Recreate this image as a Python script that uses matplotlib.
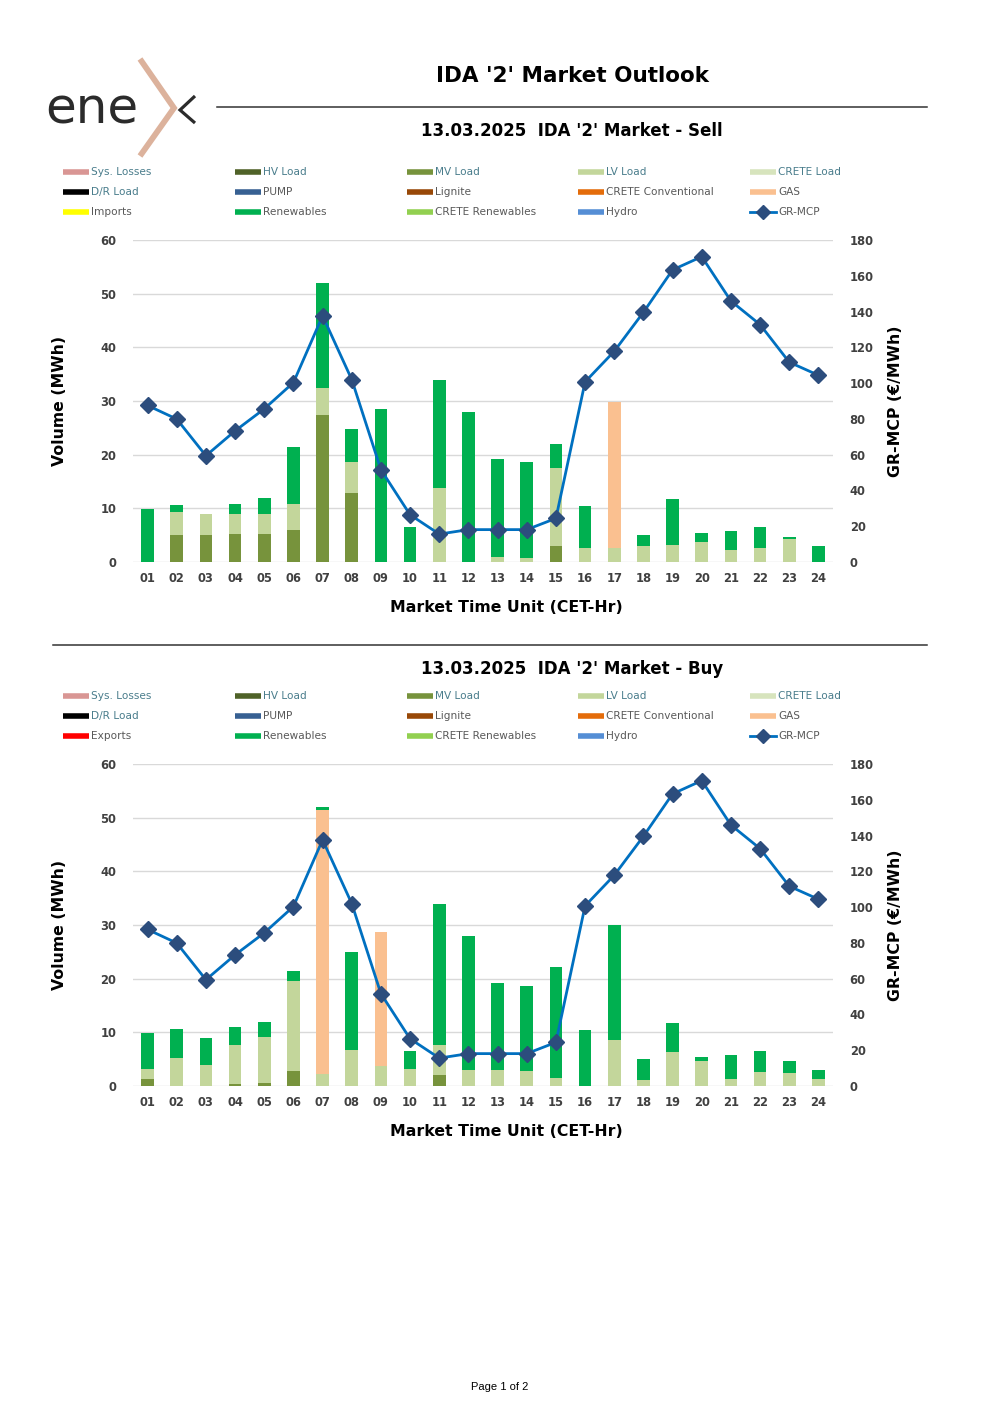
import matplotlib
matplotlib.use("Agg")
import matplotlib.pyplot as plt
import numpy as np

plt.rcParams['font.family'] = ['DejaVu Sans']

W, H = 1000, 1415

hours = ["01", "02", "03", "04", "05", "06", "07", "08", "09", "10", "11", "12",
         "13", "14", "15", "16", "17", "18", "19", "20", "21", "22", "23", "24"]

# GR-MCP price (€/MWh)
gr_mcp = [87.5, 79.9, 59.4, 73.3, 85.6, 100.3, 137.6, 102.0, 51.6, 26.4, 15.6, 18.1,
          18.1, 18.1, 24.4, 100.7, 117.8, 139.6, 163.3, 170.7, 145.9, 132.7, 111.7, 104.4]

# ---- Sell side ----
sell_mv = [0, 5.0, 5.0, 5.15, 5.3, 6.0, 27.3, 12.9, 0, 0, 0, 0,
           0, 0, 3.0, 0, 0, 0, 0, 0, 0, 0, 0, 0]
sell_lv = [0, 4.25, 3.95, 3.75, 3.65, 4.75, 5.2, 5.7, 0, 0, 13.8, 0,
           1.0, 0.8, 14.45, 2.6, 2.7, 3.0, 3.2, 3.7, 2.2, 2.7, 4.3, 0]
sell_gas = [0, 0, 0, 0, 0, 0, 0, 0, 0, 0, 0, 0,
            0, 0, 0, 0, 27.2, 0, 0, 0, 0, 0, 0, 0]
sell_ren = [9.8, 1.35, 0, 2.0, 3.05, 10.75, 19.4, 6.2, 28.6, 6.5, 20.2, 28.0,
            18.1, 17.8, 4.55, 7.8, 0, 2.1, 8.6, 1.7, 3.5, 3.9, 0.3, 3.0]

# ---- Buy side ----
buy_mv = [1.25, 0, 0, 0.4, 0.6, 2.8, 0, 0, 0, 0, 2.1, 0,
          0, 0, 0, 0, 0, 0, 0, 0, 0, 0, 0, 0]
buy_lv = [1.85, 5.15, 3.9, 7.3, 8.6, 16.7, 2.2, 6.7, 3.7, 3.2, 5.6, 3.0,
          3.0, 2.8, 1.4, 0, 8.6, 1.05, 6.35, 4.7, 1.25, 2.6, 2.5, 1.3]
buy_gas = [0, 0, 0, 0, 0, 0, 49.2, 0, 25.0, 0, 0, 0,
           0, 0, 0, 0, 0, 0, 0, 0, 0, 0, 0, 0]
buy_ren = [6.7, 5.45, 5.05, 3.3, 2.8, 1.95, 0.5, 18.2, 0, 3.3, 26.3, 25.0,
           16.1, 15.85, 20.7, 10.45, 21.4, 3.95, 5.45, 0.7, 4.45, 4.0, 2.1, 1.7]

legend_names_sell = ["Sys. Losses", "HV Load", "MV Load", "LV Load", "CRETE Load",
                     "D/R Load", "PUMP", "Lignite", "CRETE Conventional", "GAS",
                     "Imports", "Renewables", "CRETE Renewables", "Hydro", "GR-MCP"]
legend_names_buy = ["Sys. Losses", "HV Load", "MV Load", "LV Load", "CRETE Load",
                    "D/R Load", "PUMP", "Lignite", "CRETE Conventional", "GAS",
                    "Exports", "Renewables", "CRETE Renewables", "Hydro", "GR-MCP"]
legend_colors_sell = ["#d99694", "#4f6228", "#77933c", "#c3d69b", "#d7e4bd",
                      "#000000", "#376092", "#984807", "#e46c0a", "#fac090",
                      "#ffff00", "#00b050", "#92d050", "#558ed5", "#0070c0"]
legend_colors_buy = ["#d99694", "#4f6228", "#77933c", "#c3d69b", "#d7e4bd",
                     "#000000", "#376092", "#984807", "#e46c0a", "#fac090",
                     "#ff0000", "#00b050", "#92d050", "#558ed5", "#0070c0"]
teal_labels = {"Sys. Losses", "HV Load", "MV Load", "LV Load", "CRETE Load", "D/R Load"}

C_MV, C_LV, C_GAS, C_REN = "#77933c", "#c3d69b", "#fac090", "#00b050"
LINE_C, MARK_C = "#0070c0", "#2c4d7d"

fig = plt.figure(figsize=(W / 100, H / 100), dpi=100)
fig.patch.set_facecolor("white")

ov = fig.add_axes([0, 0, 1, 1])
ov.set_xlim(0, W)
ov.set_ylim(H, 0)
ov.axis("off")


def rect(x0, y0, x1, y1):
    return [x0 / W, 1 - y1 / H, (x1 - x0) / W, (y1 - y0) / H]


# logo
ov.text(45, 123, "ene", fontsize=36, color="#2b2b2b",
        ha="left", va="baseline", family="DejaVu Sans")
ov.plot([140, 174, 140], [59, 108, 156], color="#dcb29c", lw=4.2,
        solid_joinstyle="miter", solid_capstyle="butt")
ov.plot([195, 180, 195], [96, 110, 123], color="#2b2b2b", lw=2.3,
        solid_joinstyle="miter", solid_capstyle="butt")

# main title
ov.text(572, 76, "IDA '2' Market Outlook", fontsize=15.5, fontweight="bold",
        ha="center", va="center", color="black")
ov.plot([217, 927], [107, 107], color="#333333", lw=1.1)
ov.plot([53, 927], [645, 645], color="#333333", lw=1.1)
ov.text(500, 1387, "Page 1 of 2", fontsize=8, ha="center", va="center",
        family="Liberation Sans", color="black")

col_x = [63, 235, 407, 578, 750]


def draw_legend(y0, names, colors):
    row_y = [y0, y0 + 20, y0 + 40]
    for i, (nm, c) in enumerate(zip(names, colors)):
        r, cidx = divmod(i, 5)
        x = col_x[cidx]
        y = row_y[r]
        if nm == "GR-MCP":
            ov.plot([x, x + 26], [y, y], color=c, lw=2.0)
            ov.plot([x + 13], [y], marker="D", ms=7, color=MARK_C, mec=MARK_C)
        else:
            ov.plot([x, x + 26], [y, y], color=c, lw=4.0, solid_capstyle="butt")
        tc = "#4a7d8c" if nm in teal_labels else "#595959"
        ov.text(x + 28, y, nm, fontsize=7.6, color=tc, ha="left", va="center")


def draw_chart(top, sub_y, subtitle, names, colors, mv, lv, gas, ren):
    y0, y1 = top, top + 322
    ov.text(572, sub_y, subtitle, fontsize=12, fontweight="bold",
            ha="center", va="center", color="black")
    draw_legend(y0 - 68, names, colors)
    ov.text(506, y1 + 45, "Market Time Unit (CET-Hr)", fontsize=11.3,
            fontweight="bold", ha="center", va="center", color="black")
    ov.text(60, (y0 + y1) / 2, "Volume (MWh)", fontsize=11.3, fontweight="bold",
            ha="center", va="center", rotation=90, color="black")
    ov.text(896, (y0 + y1) / 2, "GR-MCP (€/MWh)", fontsize=11.3, fontweight="bold",
            ha="center", va="center", rotation=90, color="black")

    ax = fig.add_axes(rect(133, y0, 833, y1))
    ax.set_facecolor("none")
    x = np.arange(len(hours))
    mv_a, lv_a, gas_a, ren_a = map(np.array, (mv, lv, gas, ren))
    bw = 0.43
    bottom = np.zeros(len(hours))
    for vals, c in ((mv_a, C_MV), (lv_a, C_LV), (gas_a, C_GAS), (ren_a, C_REN)):
        ax.bar(x, vals, bw, bottom=bottom, color=c, zorder=2, linewidth=0)
        bottom = bottom + vals
    ax.set_ylim(0, 60)
    ax.set_yticks(np.arange(0, 61, 10))
    ax.set_xlim(-0.5, len(hours) - 0.5)
    ax.set_xticks(x)
    ax.set_xticklabels(hours)
    ax.grid(axis="y", color="#d9d9d9", lw=1.0, zorder=0)
    ax.set_axisbelow(True)
    for s in ax.spines.values():
        s.set_visible(False)
    ax.tick_params(length=0, labelsize=8.3, labelcolor="#404040")
    ax.tick_params(axis="y", pad=12)
    ax.tick_params(axis="x", pad=7)
    for t in ax.get_xticklabels() + ax.get_yticklabels():
        t.set_fontweight("bold")

    ax2 = ax.twinx()
    ax2.set_ylim(0, 180)
    ax2.set_yticks(np.arange(0, 181, 20))
    ax2.plot(x, gr_mcp, color=LINE_C, lw=2.0, zorder=3)
    ax2.plot(x, gr_mcp, ls="none", marker="D", ms=8.5, color=MARK_C, mec=MARK_C,
             zorder=4)
    for s in ax2.spines.values():
        s.set_visible(False)
    ax2.tick_params(length=0, labelsize=8.3, labelcolor="#404040", pad=12)
    for t in ax2.get_yticklabels():
        t.set_fontweight("bold")


draw_chart(240, 131, "13.03.2025  IDA '2' Market - Sell", legend_names_sell,
           legend_colors_sell, sell_mv, sell_lv, sell_gas, sell_ren)
draw_chart(764, 669, "13.03.2025  IDA '2' Market - Buy", legend_names_buy,
           legend_colors_buy, buy_mv, buy_lv, buy_gas, buy_ren)

fig.savefig("out.png", dpi=100, facecolor="white")
